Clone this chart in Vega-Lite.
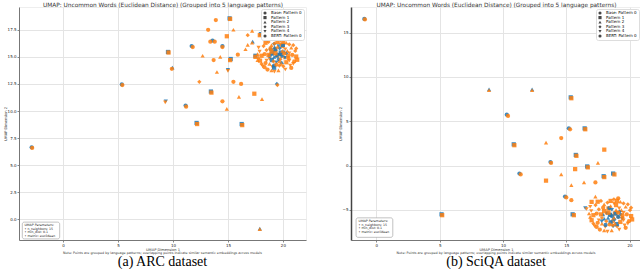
{
  "$schema": "https://vega.github.io/schema/vega-lite/v6.json",
  "padding": {"left": 2, "top": 0, "right": 0, "bottom": 0},
  "config": {
    "font": "DejaVu Sans",
    "view": {"stroke": "#eeeeee"},
    "concat": {"spacing": 30},
    "axis": {"labelFontSize": 4, "titleFontSize": 3.6, "titleFontWeight": "normal", "tickSize": 2, "labelPadding": 1, "titlePadding": 0, "domainColor": "#777", "tickColor": "#888", "gridColor": "#e4e4e4", "labelColor": "#222", "titleColor": "#333", "labelOverlap": false},
    "legend": {"padding": 2, "fillColor": "white", "strokeColor": "#dddddd", "cornerRadius": 2, "labelFontSize": 4, "symbolSize": 10, "rowPadding": 0.6, "labelLimit": 100, "symbolStrokeWidth": 0}
  },
  "datasets": {
    "arc": [
      {"x":15.15,"y":18.55,"p":1,"m":"A"},{"x":11.7,"y":16.0,"p":0,"m":"A"},{"x":9.55,"y":15.45,"p":1,"m":"A"},{"x":9.95,"y":14.0,"p":2,"m":"A"},{"x":15.0,"y":13.8,"p":4,"m":"A"},{"x":9.35,"y":10.9,"p":4,"m":"A"},{"x":13.45,"y":11.8,"p":1,"m":"A"},{"x":12.15,"y":8.9,"p":1,"m":"A"},{"x":16.25,"y":8.8,"p":1,"m":"A"},{"x":14.5,"y":16.0,"p":0,"m":"A"},{"x":15.25,"y":14.8,"p":1,"m":"A"},{"x":17.5,"y":15.1,"p":1,"m":"A"},{"x":13.6,"y":16.5,"p":0,"m":"A"},{"x":18.0,"y":17.1,"p":1,"m":"A"},{"x":17.25,"y":16.4,"p":2,"m":"A"},{"x":11.15,"y":10.5,"p":0,"m":"A"},{"x":-2.85,"y":6.65,"p":0,"m":"A"},{"x":17.9,"y":-0.85,"p":2,"m":"A"},{"x":5.35,"y":12.45,"p":0,"m":"A"},{"x":19.45,"y":12.5,"p":3,"m":"A"},
      {"x":13.9,"y":18.4,"p":0,"m":"B"},{"x":15.2,"y":18.5,"p":1,"m":"B"},{"x":13.2,"y":17.5,"p":0,"m":"B"},{"x":15.5,"y":17.5,"p":2,"m":"B"},{"x":13.4,"y":16.4,"p":0,"m":"B"},{"x":13.8,"y":16.4,"p":0,"m":"B"},{"x":14.9,"y":16.9,"p":1,"m":"B"},{"x":16.8,"y":17.0,"p":3,"m":"B"},{"x":17.2,"y":17.4,"p":2,"m":"B"},{"x":17.9,"y":17.0,"p":1,"m":"B"},{"x":11.8,"y":15.9,"p":0,"m":"B"},{"x":14.5,"y":15.9,"p":0,"m":"B"},{"x":16.8,"y":16.1,"p":2,"m":"B"},{"x":17.2,"y":16.3,"p":2,"m":"B"},{"x":16.6,"y":15.7,"p":2,"m":"B"},{"x":9.6,"y":15.4,"p":1,"m":"B"},{"x":12.7,"y":15.1,"p":2,"m":"B"},{"x":14.3,"y":15.0,"p":2,"m":"B"},{"x":15.9,"y":15.2,"p":0,"m":"B"},{"x":13.7,"y":14.7,"p":0,"m":"B"},{"x":15.2,"y":14.7,"p":1,"m":"B"},{"x":17.5,"y":15.0,"p":1,"m":"B"},{"x":17.7,"y":14.7,"p":2,"m":"B"},{"x":9.9,"y":13.9,"p":0,"m":"B"},{"x":14.0,"y":13.6,"p":2,"m":"B"},{"x":15.0,"y":13.7,"p":4,"m":"B"},{"x":12.4,"y":12.7,"p":3,"m":"B"},{"x":15.5,"y":12.7,"p":0,"m":"B"},{"x":16.2,"y":12.5,"p":0,"m":"B"},{"x":19.5,"y":12.4,"p":3,"m":"B"},{"x":5.4,"y":12.4,"p":0,"m":"B"},{"x":13.5,"y":11.7,"p":1,"m":"B"},{"x":17.4,"y":11.6,"p":1,"m":"B"},{"x":16.0,"y":11.3,"p":2,"m":"B"},{"x":18.1,"y":11.1,"p":2,"m":"B"},{"x":9.3,"y":10.8,"p":4,"m":"B"},{"x":11.2,"y":10.4,"p":0,"m":"B"},{"x":14.5,"y":10.9,"p":0,"m":"B"},{"x":14.9,"y":10.2,"p":2,"m":"B"},{"x":12.2,"y":8.8,"p":1,"m":"B"},{"x":16.3,"y":8.7,"p":1,"m":"B"},{"x":-2.8,"y":6.6,"p":0,"m":"B"},{"x":17.9,"y":-0.9,"p":2,"m":"B"},
      {"x":19.5,"y":15.1,"p":0,"m":"B"},{"x":19.86,"y":15.25,"p":1,"m":"B"},{"x":19.14,"y":15.33,"p":2,"m":"B"},{"x":20.13,"y":14.95,"p":3,"m":"B"},{"x":18.78,"y":14.8,"p":4,"m":"B"},{"x":19.68,"y":14.58,"p":0,"m":"B"},{"x":19.32,"y":15.7,"p":1,"m":"B"},{"x":20.4,"y":15.55,"p":2,"m":"B"},{"x":18.51,"y":15.63,"p":3,"m":"B"},{"x":20.58,"y":14.65,"p":4,"m":"B"},{"x":18.42,"y":14.43,"p":0,"m":"B"},{"x":19.95,"y":16.0,"p":1,"m":"B"},{"x":18.96,"y":16.08,"p":2,"m":"B"},{"x":20.04,"y":14.13,"p":3,"m":"B"},{"x":19.05,"y":14.05,"p":4,"m":"B"},{"x":20.85,"y":15.18,"p":0,"m":"B"},{"x":18.06,"y":15.1,"p":1,"m":"B"},{"x":20.76,"y":15.85,"p":2,"m":"B"},{"x":18.24,"y":16.0,"p":3,"m":"B"},{"x":20.67,"y":14.2,"p":4,"m":"B"},{"x":18.33,"y":14.05,"p":0,"m":"B"},{"x":19.5,"y":16.38,"p":1,"m":"B"},{"x":19.59,"y":13.75,"p":2,"m":"B"},{"x":21.12,"y":15.55,"p":3,"m":"B"},{"x":17.88,"y":15.48,"p":4,"m":"B"},{"x":21.03,"y":14.58,"p":0,"m":"B"},{"x":17.92,"y":14.65,"p":1,"m":"B"},{"x":20.31,"y":16.3,"p":2,"m":"B"},{"x":18.69,"y":16.38,"p":3,"m":"B"},{"x":20.22,"y":13.83,"p":4,"m":"B"},{"x":18.6,"y":13.83,"p":0,"m":"B"},{"x":21.21,"y":15.03,"p":1,"m":"B"},{"x":17.79,"y":14.95,"p":2,"m":"B"},{"x":19.77,"y":16.53,"p":3,"m":"B"},{"x":19.23,"y":13.63,"p":4,"m":"B"},
      {"x":19.5,"y":15.2,"p":0,"m":"A"},{"x":19.8,"y":15.4,"p":1,"m":"A"},{"x":19.2,"y":15.0,"p":2,"m":"A"},{"x":19.6,"y":14.8,"p":3,"m":"A"},{"x":19.9,"y":15.0,"p":4,"m":"A"},{"x":19.3,"y":15.6,"p":0,"m":"A"},{"x":19.0,"y":15.3,"p":1,"m":"A"},{"x":20.1,"y":15.5,"p":2,"m":"A"},{"x":19.7,"y":15.8,"p":3,"m":"A"},{"x":19.4,"y":14.5,"p":4,"m":"A"},{"x":19.2,"y":14.2,"p":0,"m":"A"},{"x":19.2,"y":14.0,"p":1,"m":"A"},{"x":19.25,"y":15.9,"p":2,"m":"A"},{"x":19.2,"y":16.2,"p":3,"m":"A"},{"x":20.2,"y":14.9,"p":4,"m":"A"},{"x":18.8,"y":15.1,"p":0,"m":"A"},{"x":19.0,"y":14.7,"p":1,"m":"A"},{"x":19.9,"y":14.5,"p":2,"m":"A"},{"x":20.3,"y":15.3,"p":3,"m":"A"},{"x":19.6,"y":16.0,"p":4,"m":"A"},{"x":18.9,"y":15.7,"p":0,"m":"A"},{"x":20.0,"y":16.1,"p":1,"m":"A"},{"x":19.4,"y":15.1,"p":2,"m":"A"},{"x":19.1,"y":15.45,"p":3,"m":"A"},{"x":19.75,"y":15.15,"p":4,"m":"A"},
      {"x":20.49,"y":15.1,"p":0,"m":"B"},{"x":18.69,"y":15.18,"p":1,"m":"B"},{"x":19.5,"y":15.93,"p":2,"m":"B"},{"x":19.68,"y":14.2,"p":3,"m":"B"},{"x":20.22,"y":15.7,"p":4,"m":"B"},{"x":18.87,"y":15.78,"p":0,"m":"B"},{"x":20.31,"y":14.5,"p":1,"m":"B"},{"x":18.78,"y":14.35,"p":2,"m":"B"},{"x":20.94,"y":16.08,"p":3,"m":"B"},{"x":18.15,"y":14.13,"p":4,"m":"B"},{"x":20.76,"y":13.98,"p":0,"m":"B"},{"x":18.42,"y":16.3,"p":1,"m":"B"},{"x":19.95,"y":15.55,"p":2,"m":"B"},{"x":19.14,"y":14.58,"p":3,"m":"B"},{"x":20.58,"y":15.33,"p":4,"m":"B"},{"x":18.33,"y":15.25,"p":0,"m":"B"},{"x":20.04,"y":16.38,"p":1,"m":"B"},{"x":18.96,"y":13.75,"p":2,"m":"B"},{"x":21.21,"y":15.78,"p":3,"m":"B"},{"x":17.79,"y":15.85,"p":4,"m":"B"},{"x":20.49,"y":14.88,"p":0,"m":"B"},{"x":19.32,"y":15.33,"p":1,"m":"B"},{"x":19.77,"y":14.88,"p":2,"m":"B"},{"x":18.06,"y":14.35,"p":3,"m":"B"},{"x":19.77,"y":16.15,"p":4,"m":"B"},{"x":19.41,"y":14.28,"p":0,"m":"B"},{"x":21.3,"y":14.73,"p":1,"m":"B"},{"x":17.7,"y":15.25,"p":2,"m":"B"},{"x":20.58,"y":16.15,"p":3,"m":"B"},{"x":18.51,"y":14.65,"p":4,"m":"B"},{"x":20.13,"y":15.33,"p":0,"m":"B"},{"x":18.96,"y":15.48,"p":1,"m":"B"},{"x":19.86,"y":14.35,"p":2,"m":"B"},{"x":19.23,"y":16.23,"p":3,"m":"B"},{"x":20.94,"y":14.35,"p":4,"m":"B"}
    ],
    "sciqa": [
      {"x":-0.95,"y":16.55,"p":0,"m":"A"},{"x":8.9,"y":8.6,"p":2,"m":"A"},{"x":12.3,"y":8.6,"p":2,"m":"A"},{"x":15.35,"y":7.7,"p":1,"m":"A"},{"x":10.3,"y":5.75,"p":0,"m":"A"},{"x":15.2,"y":4.2,"p":0,"m":"A"},{"x":11.3,"y":-0.9,"p":0,"m":"A"},{"x":14.9,"y":-3.5,"p":0,"m":"A"},{"x":15.5,"y":-5.5,"p":1,"m":"A"},{"x":16.5,"y":-4.8,"p":4,"m":"A"},{"x":18.7,"y":-0.9,"p":1,"m":"A"},{"x":15.75,"y":1.2,"p":1,"m":"A"},{"x":13.75,"y":0.4,"p":0,"m":"A"},{"x":16.65,"y":-0.1,"p":1,"m":"A"},{"x":5.15,"y":-5.5,"p":1,"m":"A"},{"x":17.95,"y":-1.2,"p":1,"m":"A"},{"x":16.45,"y":4.2,"p":1,"m":"A"},{"x":10.85,"y":2.4,"p":1,"m":"A"},
      {"x":-0.9,"y":16.5,"p":0,"m":"B"},{"x":8.9,"y":8.5,"p":2,"m":"B"},{"x":12.3,"y":8.5,"p":2,"m":"B"},{"x":15.4,"y":7.6,"p":1,"m":"B"},{"x":10.4,"y":5.6,"p":0,"m":"B"},{"x":15.3,"y":4.1,"p":0,"m":"B"},{"x":16.5,"y":4.1,"p":1,"m":"B"},{"x":14.6,"y":3.1,"p":0,"m":"B"},{"x":10.9,"y":2.3,"p":1,"m":"B"},{"x":13.4,"y":2.6,"p":2,"m":"B"},{"x":15.8,"y":1.1,"p":1,"m":"B"},{"x":18.0,"y":1.8,"p":1,"m":"B"},{"x":13.8,"y":0.3,"p":0,"m":"B"},{"x":17.5,"y":0.3,"p":2,"m":"B"},{"x":15.7,"y":-0.4,"p":1,"m":"B"},{"x":16.7,"y":-0.2,"p":1,"m":"B"},{"x":11.4,"y":-1.0,"p":0,"m":"B"},{"x":14.6,"y":-1.0,"p":2,"m":"B"},{"x":18.8,"y":-1.0,"p":1,"m":"B"},{"x":13.4,"y":-1.7,"p":1,"m":"B"},{"x":15.4,"y":-2.2,"p":2,"m":"B"},{"x":16.4,"y":-1.9,"p":2,"m":"B"},{"x":17.3,"y":-1.9,"p":0,"m":"B"},{"x":18.0,"y":-1.3,"p":1,"m":"B"},{"x":15.0,"y":-3.6,"p":0,"m":"B"},{"x":15.4,"y":-3.9,"p":0,"m":"B"},{"x":15.6,"y":-5.6,"p":1,"m":"B"},{"x":16.6,"y":-4.9,"p":4,"m":"B"},{"x":5.2,"y":-5.6,"p":1,"m":"B"},{"x":17.3,"y":-3.5,"p":2,"m":"B"},{"x":19.1,"y":-3.7,"p":0,"m":"B"},{"x":17.0,"y":-4.1,"p":1,"m":"B"},
      {"x":18.5,"y":-5.6,"p":0,"m":"B"},{"x":18.84,"y":-5.41,"p":1,"m":"B"},{"x":18.16,"y":-5.32,"p":2,"m":"B"},{"x":19.1,"y":-5.79,"p":3,"m":"B"},{"x":17.82,"y":-5.98,"p":4,"m":"B"},{"x":18.67,"y":-6.27,"p":0,"m":"B"},{"x":18.33,"y":-4.84,"p":1,"m":"B"},{"x":19.35,"y":-5.03,"p":2,"m":"B"},{"x":17.57,"y":-4.94,"p":3,"m":"B"},{"x":19.52,"y":-6.17,"p":4,"m":"B"},{"x":17.48,"y":-6.46,"p":0,"m":"B"},{"x":18.93,"y":-4.46,"p":1,"m":"B"},{"x":17.99,"y":-4.37,"p":2,"m":"B"},{"x":19.01,"y":-6.84,"p":3,"m":"B"},{"x":18.08,"y":-6.93,"p":4,"m":"B"},{"x":19.78,"y":-5.51,"p":0,"m":"B"},{"x":17.14,"y":-5.6,"p":1,"m":"B"},{"x":19.69,"y":-4.65,"p":2,"m":"B"},{"x":17.31,"y":-4.46,"p":3,"m":"B"},{"x":19.61,"y":-6.74,"p":4,"m":"B"},{"x":17.4,"y":-6.93,"p":0,"m":"B"},{"x":18.5,"y":-3.99,"p":1,"m":"B"},{"x":18.59,"y":-7.31,"p":2,"m":"B"},{"x":20.03,"y":-5.03,"p":3,"m":"B"},{"x":16.97,"y":-5.13,"p":4,"m":"B"},{"x":19.95,"y":-6.27,"p":0,"m":"B"},{"x":17.0,"y":-6.17,"p":1,"m":"B"},{"x":19.27,"y":-4.08,"p":2,"m":"B"},{"x":17.74,"y":-3.99,"p":3,"m":"B"},{"x":19.18,"y":-7.22,"p":4,"m":"B"},{"x":17.65,"y":-7.22,"p":0,"m":"B"},{"x":20.12,"y":-5.7,"p":1,"m":"B"},{"x":16.89,"y":-5.79,"p":2,"m":"B"},{"x":18.76,"y":-3.8,"p":3,"m":"B"},{"x":18.25,"y":-7.46,"p":4,"m":"B"},
      {"x":18.6,"y":-5.7,"p":0,"m":"A"},{"x":18.9,"y":-5.4,"p":1,"m":"A"},{"x":18.3,"y":-5.9,"p":2,"m":"A"},{"x":18.8,"y":-6.1,"p":3,"m":"A"},{"x":18.2,"y":-5.4,"p":4,"m":"A"},{"x":19.1,"y":-5.8,"p":0,"m":"A"},{"x":18.5,"y":-6.4,"p":1,"m":"A"},{"x":18.0,"y":-6.0,"p":2,"m":"A"},{"x":19.2,"y":-5.2,"p":3,"m":"A"},{"x":18.6,"y":-5.0,"p":4,"m":"A"},{"x":18.4,"y":-4.8,"p":0,"m":"A"},{"x":19.0,"y":-6.6,"p":1,"m":"A"},{"x":17.9,"y":-5.5,"p":2,"m":"A"},{"x":18.7,"y":-6.8,"p":3,"m":"A"},{"x":19.4,"y":-6.0,"p":4,"m":"A"},{"x":18.1,"y":-6.7,"p":0,"m":"A"},{"x":18.45,"y":-5.55,"p":1,"m":"A"},{"x":18.75,"y":-5.85,"p":2,"m":"A"},{"x":19.3,"y":-5.5,"p":3,"m":"A"},{"x":17.8,"y":-6.3,"p":4,"m":"A"},
      {"x":19.44,"y":-5.6,"p":0,"m":"B"},{"x":17.74,"y":-5.51,"p":1,"m":"B"},{"x":18.5,"y":-4.56,"p":2,"m":"B"},{"x":18.67,"y":-6.74,"p":3,"m":"B"},{"x":19.18,"y":-4.84,"p":4,"m":"B"},{"x":17.91,"y":-4.75,"p":0,"m":"B"},{"x":19.27,"y":-6.36,"p":1,"m":"B"},{"x":17.82,"y":-6.55,"p":2,"m":"B"},{"x":19.86,"y":-4.37,"p":3,"m":"B"},{"x":17.23,"y":-6.84,"p":4,"m":"B"},{"x":19.69,"y":-7.03,"p":0,"m":"B"},{"x":17.48,"y":-4.08,"p":1,"m":"B"},{"x":18.93,"y":-5.03,"p":2,"m":"B"},{"x":18.16,"y":-6.27,"p":3,"m":"B"},{"x":19.52,"y":-5.32,"p":4,"m":"B"},{"x":17.4,"y":-5.41,"p":0,"m":"B"},{"x":19.01,"y":-3.99,"p":1,"m":"B"},{"x":17.99,"y":-7.31,"p":2,"m":"B"},{"x":20.12,"y":-4.75,"p":3,"m":"B"},{"x":16.89,"y":-4.65,"p":4,"m":"B"},{"x":19.44,"y":-5.89,"p":0,"m":"B"},{"x":18.33,"y":-5.32,"p":1,"m":"B"},{"x":18.76,"y":-5.89,"p":2,"m":"B"},{"x":17.14,"y":-6.55,"p":3,"m":"B"},{"x":18.76,"y":-4.27,"p":4,"m":"B"},{"x":18.42,"y":-6.65,"p":0,"m":"B"},{"x":20.2,"y":-6.08,"p":1,"m":"B"},{"x":16.8,"y":-5.41,"p":2,"m":"B"},{"x":19.52,"y":-4.27,"p":3,"m":"B"},{"x":17.57,"y":-6.17,"p":4,"m":"B"},{"x":19.1,"y":-5.32,"p":0,"m":"B"},{"x":17.99,"y":-5.13,"p":1,"m":"B"},{"x":18.84,"y":-6.55,"p":2,"m":"B"},{"x":18.25,"y":-4.18,"p":3,"m":"B"},{"x":19.86,"y":-6.55,"p":4,"m":"B"}
    ]
  },
  "hconcat": [
    {
      "width": 287,
      "height": 233,
      "title": {"text": "Note: Points are grouped by language patterns; overlapping points indicate similar semantic embeddings across models", "orient": "bottom", "anchor": "middle", "fontSize": 3.3, "fontWeight": "normal", "color": "#333", "offset": 0, "subtitle": "(a)  ARC dataset", "subtitleFont": "Liberation Serif", "subtitleFontSize": 14, "subtitleColor": "#000", "subtitlePadding": 1},
      "layer": [
        {
          "data": {"name": "arc"},
          "mark": {"type": "point", "filled": true, "size": 18, "opacity": 0.85},
          "encoding": {
            "x": {"field": "x", "type": "quantitative", "scale": {"domain": [-4, 22.1], "nice": false, "zero": false}, "axis": {"values": [0, 5, 10, 15, 20], "title": "UMAP Dimension 1", "labelOverlap": false}},
            "y": {"field": "y", "type": "quantitative", "scale": {"domain": [-1.9, 19.6], "nice": false, "zero": false}, "axis": {"values": [0, 2.5, 5, 7.5, 10, 12.5, 15, 17.5], "format": ".1f", "title": "UMAP Dimension 2", "labelOverlap": false}},
            "color": {"field": "m", "type": "nominal", "scale": {"domain": ["A", "B"], "range": ["#1f77b4", "#ff7f0e"]}, "legend": null},
            "shape": {"field": "p", "type": "nominal", "scale": {"domain": [0, 1, 2, 3, 4, 5], "range": ["circle", "square", "triangle-up", "diamond", "triangle-down", "circle"]},
              "legend": {"title": null, "orient": "top-right", "offset": 2, "labelExpr": "['Base: Pattern 0','Pattern 1','Pattern 2','Pattern 3','Pattern 4','BERT: Pattern 0'][datum.value]",
                "encode": {"symbols": {"update": {"fill": {"signal": "datum.value === 5 ? '#ff7f0e' : '#1f77b4'"}, "stroke": {"value": "transparent"}, "opacity": {"value": 0.9}}}}}}
          }
        },
        {
          "data": {"values": [{}]},
          "mark": {"type": "rect", "fill": "white", "stroke": "#999", "strokeWidth": 0.6, "cornerRadius": 2},
          "encoding": {
            "x": {"datum": -3.7, "axis": {"orient": "top", "title": "UMAP: Uncommon Words (Euclidean Distance) (Grouped into 5 language patterns)", "titleFontSize": 5.8, "titlePadding": 0, "labels": false, "ticks": false, "domain": false, "grid": false}},
            "x2": {"datum": -0.3},
            "y": {"datum": -0.25, "axis": {"values": [0, 2.5, 5, 7.5, 10, 12.5, 15, 17.5], "format": ".1f", "title": "UMAP Dimension 2", "labelOverlap": false}},
            "y2": {"datum": -1.8}}
        },
        {
          "data": {"values": [{}]},
          "mark": {"type": "text", "align": "left", "baseline": "top", "fontSize": 3.2, "lineHeight": 3.6, "color": "#222"},
          "encoding": {"x": {"datum": -3.5, "axis": null}, "y": {"datum": -0.35, "axis": {"values": [0, 2.5, 5, 7.5, 10, 12.5, 15, 17.5], "format": ".1f", "title": "UMAP Dimension 2", "labelOverlap": false}}, "text": {"value": ["UMAP Parameters:", "• n_neighbors: 15", "• min_dist: 0.1", "• metric: euclidean"]}}
        }
      ],
      "resolve": {"axis": {"x": "independent"}}
    },
    {
      "width": 290,
      "height": 233,
      "title": {"text": "Note: Points are grouped by language patterns; overlapping points indicate similar semantic embeddings across models", "orient": "bottom", "anchor": "middle", "fontSize": 3.3, "fontWeight": "normal", "color": "#333", "offset": 0, "subtitle": "(b)  SciQA dataset", "subtitleFont": "Liberation Serif", "subtitleFontSize": 14, "subtitleColor": "#000", "subtitlePadding": 1},
      "layer": [
        {
          "data": {"name": "sciqa"},
          "mark": {"type": "point", "filled": true, "size": 18, "opacity": 0.85},
          "encoding": {
            "x": {"field": "x", "type": "quantitative", "scale": {"domain": [-2, 20.9], "nice": false, "zero": false}, "axis": {"values": [0, 5, 10, 15, 20], "title": "UMAP Dimension 1", "labelOverlap": false}},
            "y": {"field": "y", "type": "quantitative", "scale": {"domain": [-8.4, 17.9], "nice": false, "zero": false}, "axis": {"values": [-5, 0, 5, 10, 15], "title": "UMAP Dimension 2", "labelOverlap": false, "domainColor": "#444", "domainWidth": 1.5}},
            "color": {"field": "m", "type": "nominal", "scale": {"domain": ["A", "B"], "range": ["#1f77b4", "#ff7f0e"]}, "legend": null},
            "shape": {"field": "p", "type": "nominal", "scale": {"domain": [0, 1, 2, 3, 4, 5], "range": ["circle", "square", "triangle-up", "diamond", "triangle-down", "circle"]},
              "legend": {"title": null, "orient": "top-right", "offset": 2, "labelExpr": "['Base: Pattern 0','Pattern 1','Pattern 2','Pattern 3','Pattern 4','BERT: Pattern 0'][datum.value]",
                "encode": {"symbols": {"update": {"fill": {"signal": "datum.value === 5 ? '#ff7f0e' : '#1f77b4'"}, "stroke": {"value": "transparent"}, "opacity": {"value": 0.9}}}}}}
          }
        },
        {
          "data": {"values": [{}]},
          "mark": {"type": "rect", "fill": "white", "stroke": "#999", "strokeWidth": 0.6, "cornerRadius": 2},
          "encoding": {
            "x": {"datum": -1.6, "axis": {"orient": "top", "title": "UMAP: Uncommon Words (Euclidean Distance) (Grouped into 5 language patterns)", "titleFontSize": 5.8, "titlePadding": 0, "labels": false, "ticks": false, "domain": false, "grid": false}},
            "x2": {"datum": 1.3},
            "y": {"datum": -5.9, "axis": {"values": [-5, 0, 5, 10, 15], "title": "UMAP Dimension 2", "labelOverlap": false, "domainColor": "#444", "domainWidth": 1.5}},
            "y2": {"datum": -8.1}}
        },
        {
          "data": {"values": [{}]},
          "mark": {"type": "text", "align": "left", "baseline": "top", "fontSize": 3.2, "lineHeight": 3.6, "color": "#222"},
          "encoding": {"x": {"datum": -1.4, "axis": null}, "y": {"datum": -6.05, "axis": {"values": [-5, 0, 5, 10, 15], "title": "UMAP Dimension 2", "labelOverlap": false, "domainColor": "#444", "domainWidth": 1.5}}, "text": {"value": ["UMAP Parameters:", "• n_neighbors: 15", "• min_dist: 0.1", "• metric: euclidean"]}}
        }
      ],
      "resolve": {"axis": {"x": "independent"}}
    }
  ],
  "resolve": {"scale": {"x": "independent", "y": "independent", "shape": "independent", "color": "independent"}, "legend": {"shape": "independent"}}
}
